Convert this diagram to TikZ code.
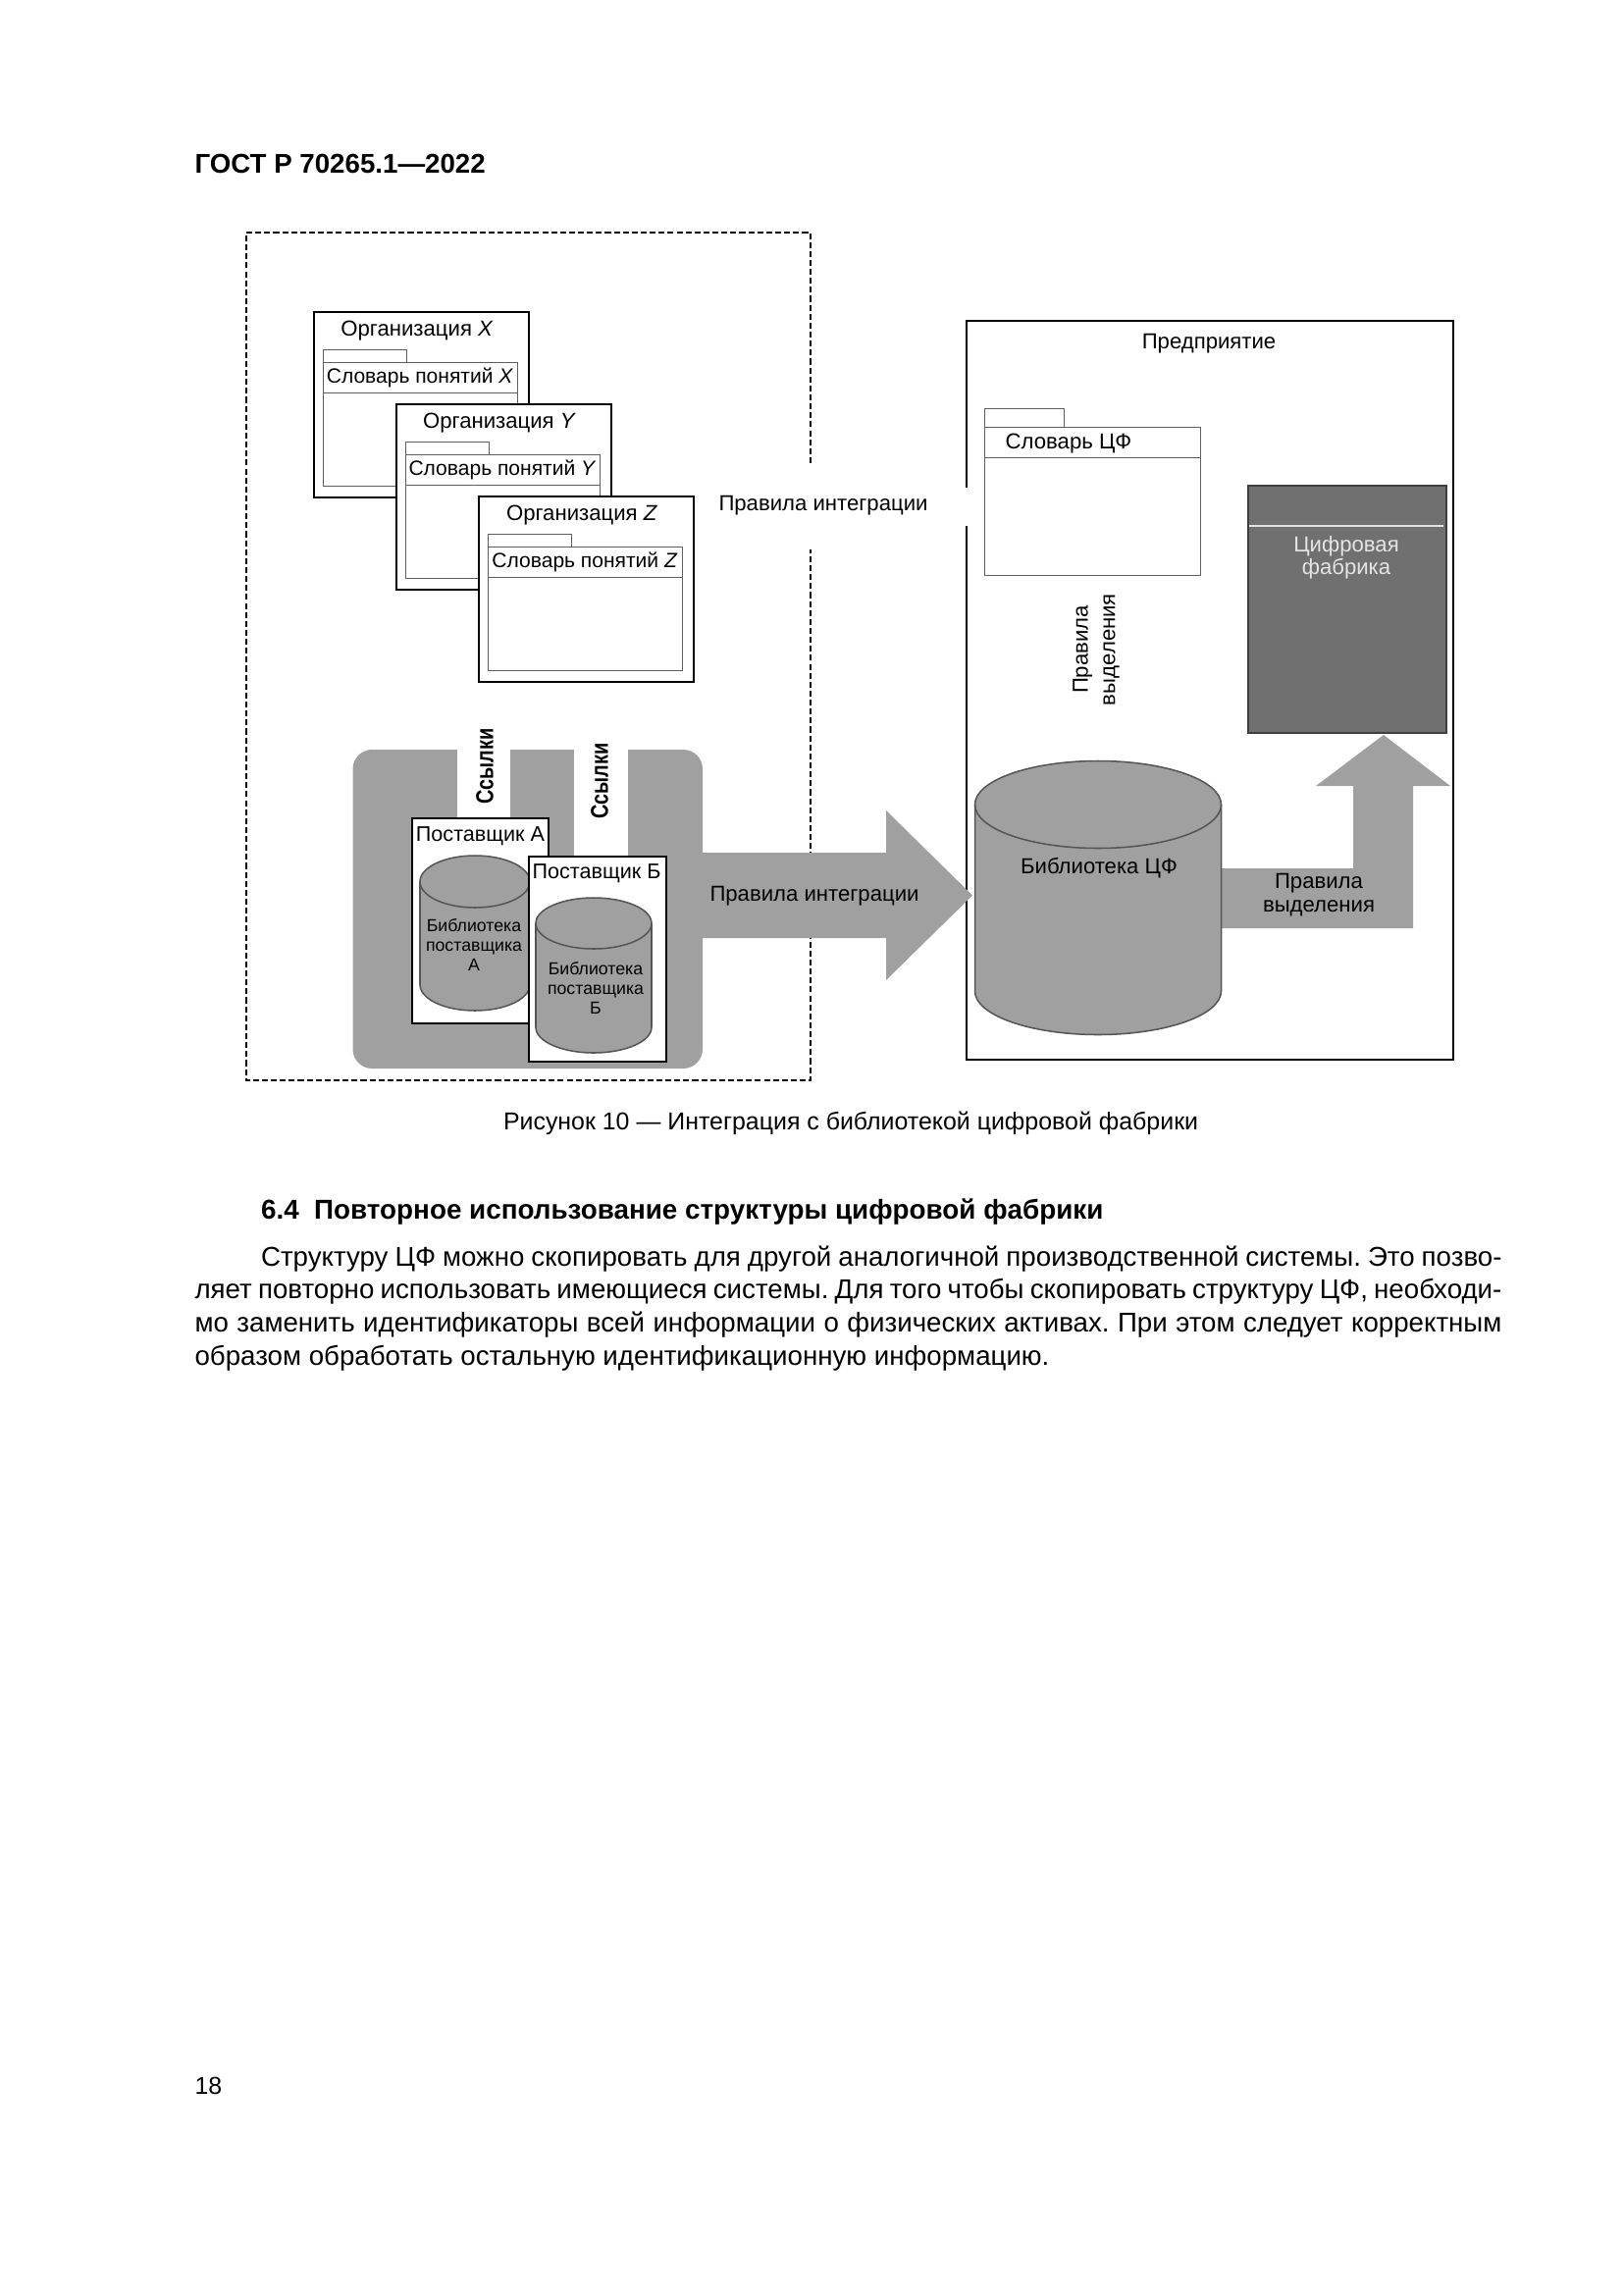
\documentclass[tikz,border=0pt]{standalone}
\usepackage{fontspec}
\setmainfont{Liberation Sans}
\frenchspacing
\definecolor{midgray}{RGB}{160,160,160}
\definecolor{darkfill}{RGB}{112,112,112}
\definecolor{darkedge}{RGB}{62,62,62}
\definecolor{cylline}{RGB}{85,85,85}
\definecolor{pkgline}{RGB}{95,95,95}
\definecolor{lighttxt}{RGB}{228,228,228}
\newcommand{\pxu}{0.126965mm}
\newcommand{\fs}[2]{\fontsize{#1}{#2}\selectfont}
\newcommand{\orgpkg}[4]{%
  \node[orgbox, anchor=north west] (#1) at (#2,#3) {};
  \node[pkgpart, anchor=north west, minimum width=85*\pxu, minimum height=13*\pxu] (#1tab) at (#2+10,#3+39) {};
  \node[pkgpart, anchor=north west, minimum width=198*\pxu, minimum height=31*\pxu] (#1hdr) at (#2+10,#3+52) {};
  \node[pkgpart, anchor=north west, minimum width=198*\pxu, minimum height=95*\pxu] (#1body) at (#2+10,#3+83) {};
  \node[lbl, font=\fs{8}{9.6}] (#1title) at (#2+106,#3+20) {Организация \textit{#4}};
  \node[lbl, font=\fs{7.6}{9}] (#1dict) at (#2+109,#3+68) {Словарь понятий \textit{#4}};
}
\newcommand{\cylinder}[6]{%
  \path[cylstyle] (#2-#5,#3) arc[start angle=180,end angle=360,x radius=#5,y radius=#6]
    -- (#2+#5,#4) arc[start angle=0,end angle=180,x radius=#5,y radius=#6] -- cycle;
  \draw[cylline, line width=0.55pt] (#2+#5,#3) arc[start angle=0,end angle=180,x radius=#5,y radius=#6];
  \coordinate (#1) at (#2,#3);
}
\begin{document}
\begin{tikzpicture}[x=0.126965mm, y=-0.126965mm,
  lbl/.style={inner sep=0pt, align=center},
  orgbox/.style={draw=black, line width=0.85pt, fill=white, inner sep=0pt,
    minimum width=219*\pxu, minimum height=189*\pxu},
  pkgpart/.style={draw=pkgline, line width=0.45pt, fill=white, inner sep=0pt},
  cylstyle/.style={fill=midgray, draw=cylline, line width=0.55pt},
  whitebox/.style={draw=black, line width=0.8pt, fill=white, inner sep=0pt, anchor=north west}]
\useasboundingbox (0,0) rectangle (1654,2339);
\fill[white] (0,0) rectangle (1654,2339);

% header
\node[anchor=base west, inner sep=0pt, font=\bfseries\fs{10}{12}] (hdr) at (198,177) {ГОСТ Р 70265.1—2022};

% dashed frame
\draw[line width=0.5pt, dash pattern=on 2.2pt off 1.1pt] (826,472) -- (826,237) -- (251,237) -- (251,1101) -- (826,1101) -- (826,560);

% organisations
\orgpkg{orgX}{319}{317}{X}
\orgpkg{orgY}{403}{411}{Y}
\orgpkg{orgZ}{487}{505}{Z}

% top integration label
\node[lbl, font=\fs{8}{9.6}] (intTop) at (839,515) {Правила интеграции};

% enterprise frame
\draw[line width=0.7pt] (985,497) -- (985,327) -- (1481,327) -- (1481,1080) -- (985,1080) -- (985,536);
\node[lbl, font=\fs{8}{9.6}] (ent) at (1232,350) {Предприятие};

% Словарь ЦФ
\node[pkgpart, anchor=north west, minimum width=81*\pxu, minimum height=19*\pxu] (cfdtab) at (1003,416) {};
\node[pkgpart, anchor=north west, minimum width=220*\pxu, minimum height=31*\pxu] (cfdhdr) at (1003,435) {};
\node[pkgpart, anchor=north west, minimum width=220*\pxu, minimum height=120*\pxu] (cfdbody) at (1003,466) {};
\node[lbl, font=\fs{8}{9.6}] (cfdtxt) at (1089,452) {Словарь ЦФ};

% vertical label
\node[lbl, rotate=90, font=\fs{8}{10}] (selV) at (1117,662) {Правила\\выделения};

% Цифровая фабрика
\node[draw=darkedge, fill=darkfill, line width=0.8pt, inner sep=0pt, anchor=north west,
  minimum width=202*\pxu, minimum height=252*\pxu] (cf) at (1271,494) {};
\draw[lighttxt, line width=0.5pt] (1273,536) -- (1471,536);
\node[lbl, text=lighttxt, font=\fs{8}{8.2}] (cftxt) at (1372,568) {Цифровая\\фабрика};

% L-shaped arrow to Цифровая фабрика
\fill[midgray] (1240,885) -- (1379,885) -- (1379,801) -- (1341,801) -- (1410,749)
  -- (1478,801) -- (1440,801) -- (1440,946) -- (1240,946) -- cycle;
\node[lbl, font=\fs{8}{8.6}] (selH) at (1344,912) {Правила\\выделения};

% Library ЦФ
\cylinder{libcf}{1119}{820}{1010}{125.5}{44.5}
\node[lbl, font=\fs{8}{9.6}] (libcftxt) at (1120,885) {Библиотека ЦФ};

% grey U region and integration arrow
\fill[midgray, rounded corners=2.5mm] (359.5,764) rectangle (716,1089);
\fill[midgray] (712,869) -- (903,869) -- (903,826) -- (991,912.5) -- (903,999) -- (903,956) -- (712,956) -- cycle;
\fill[white] (466,758) rectangle (520,835);
\fill[white] (585,758) rectangle (640,873);
\node[lbl, font=\fs{8}{9.6}] (intArr) at (830,913) {Правила интеграции};

% references
\node[lbl, rotate=90, font=\bfseries\fs{9}{10}] (ref1) at (494,781) {\scalebox{0.8}[1]{Ссылки}};
\node[lbl, rotate=90, font=\bfseries\fs{9}{10}] (ref2) at (611,796) {\scalebox{0.8}[1]{Ссылки}};

% supplier A
\node[whitebox, minimum width=139*\pxu, minimum height=209*\pxu] (supA) at (419,833) {};
\node[lbl, font=\fs{7.8}{9}] (supAtxt) at (489.5,852) {Поставщик А};
\cylinder{libA}{484}{898.5}{1003.5}{56}{26.5}
\node[lbl, font=\fs{6.4}{7.2}] (libAtxt) at (483,963) {Библиотека\\поставщика\\А};

% supplier B
\node[whitebox, minimum width=139.5*\pxu, minimum height=209*\pxu] (supB) at (538,872) {};
\node[lbl, font=\fs{7.8}{9}] (supBtxt) at (608,890) {Поставщик Б};
\cylinder{libB}{605}{941}{1047}{59}{26}
\node[lbl, font=\fs{6.4}{7.2}] (libBtxt) at (607,1007) {Библиотека\\поставщика\\Б};

% caption and text
\node[anchor=base, inner sep=0pt, font=\fs{9}{11}] (cap) at (867,1151.5) {Рисунок 10 — Интеграция с библиотекой цифровой фабрики};
\node[anchor=base west, inner sep=0pt, font=\bfseries\fs{10.05}{12}] (sec) at (265.5,1242) {6.4\ \ Повторное использование структуры цифровой фабрики};
\node[anchor=base west, inner sep=0pt, font=\fs{10}{12}] (p1) at (265.5,1290)
  {\makebox[456.8pt][s]{Структуру ЦФ можно скопировать для другой аналогичной производственной системы. Это позво-}};
\node[anchor=base west, inner sep=0pt, font=\fs{10}{12}] (p2) at (198,1323.7)
  {\makebox[481.1pt][s]{ляет повторно использовать имеющиеся системы. Для того чтобы скопировать структуру ЦФ, необходи-}};
\node[anchor=base west, inner sep=0pt, font=\fs{10}{12}] (p3) at (198,1357.4)
  {\makebox[481.1pt][s]{мо заменить идентификаторы всей информации о физических активах. При этом следует корректным}};
\node[anchor=base west, inner sep=0pt, font=\fs{10}{12}] (p4) at (198,1391)
  {образом обработать остальную идентификационную информацию.};
\node[anchor=base west, inner sep=0pt, font=\fs{9}{11}] (pg) at (198,2134) {18};
\end{tikzpicture}
\end{document}
